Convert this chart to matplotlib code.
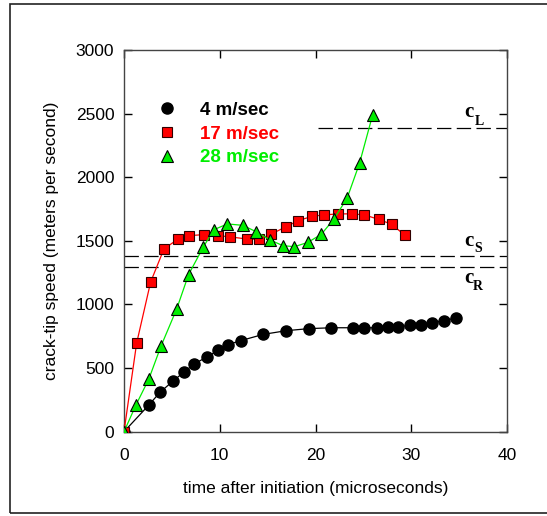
import matplotlib.pyplot as plt
from matplotlib.patches import Rectangle
from matplotlib.lines import Line2D

# crack-tip speed vs time, three impact speeds
t_4 = [0, 2.6, 3.75, 5.07, 6.22, 7.36, 8.65, 9.82, 10.9, 12.2, 14.55, 16.95, 19.3,
       21.67, 23.96, 25.1, 26.4, 27.6, 28.65, 29.9, 31.0, 32.2, 33.4, 34.7]
v_4 = [0, 210, 309, 395, 466, 534, 587, 640, 685, 716, 765, 794, 810,
       817, 817, 817, 817, 822, 825, 836, 841, 857, 872, 895]

t_17 = [0, 1.32, 2.78, 4.17, 5.6, 6.8, 8.36, 9.82, 11.1, 12.8, 14.1, 15.4, 16.95,
        18.2, 19.65, 20.9, 22.4, 23.85, 25.1, 26.6, 27.95, 29.3]
v_17 = [0, 696, 1176, 1436, 1512, 1541, 1549, 1541, 1531, 1515, 1512, 1554, 1612,
        1659, 1693, 1704, 1712, 1712, 1704, 1669, 1630, 1546]

t_28 = [0, 1.25, 2.6, 3.85, 5.5, 6.74, 8.3, 9.4, 10.8, 12.4, 13.8, 15.2, 16.6,
        17.8, 19.2, 20.6, 21.9, 23.3, 24.6, 25.97]
v_28 = [0, 210, 415, 670, 964, 1234, 1454, 1588, 1633, 1622, 1572, 1509, 1462,
        1454, 1488, 1551, 1669, 1835, 2110, 2491]

labels = ['4 m/sec', '17 m/sec', '28 m/sec']

# wave speeds
c_L = 2385
c_S = 1382
c_R = 1298

GREEN = '#00ee00'
RED = '#ff0000'

plt.rcParams['font.family'] = ['Liberation Sans', 'DejaVu Sans']

fig = plt.figure(figsize=(5.47, 5.16), dpi=100)
fig.patches.append(Rectangle((10 / 547, 3 / 516), 1.0, 509 / 516, transform=fig.transFigure,
                             fill=False, edgecolor='#222222', lw=1.2))
ax = fig.add_axes([124 / 547, 84.3 / 516, 383 / 547, 381.7 / 516])

dash = (0, (11.5, 4.3))
ax.plot([20.3, 40], [c_L, c_L], color='black', lw=0.9, linestyle=dash)
ax.plot([0, 40], [c_S, c_S], color='black', lw=0.9, linestyle=dash)
ax.plot([0, 40], [c_R, c_R], color='black', lw=0.9, linestyle=dash)

ax.plot(t_4, v_4, '-', color='black', lw=0.9, marker='o', ms=8,
        mfc='black', mec='black', zorder=3)
ax.plot(t_17, v_17, '-', color=RED, lw=0.9, marker='s', ms=7.5,
        mfc=RED, mec='#300000', mew=0.8, zorder=4)
ax.plot(t_28, v_28, '-', color=GREEN, lw=0.9, marker='^', ms=9,
        mfc=GREEN, mec='black', mew=0.8, zorder=5)

ax.set_xlim(0, 40)
ax.set_ylim(0, 3000)
ax.set_xticks([0, 10, 20, 30, 40])
ax.set_yticks([0, 500, 1000, 1500, 2000, 2500, 3000])
ax.tick_params(direction='in', length=6, width=1, top=True, right=True,
               labelsize=12.5, pad=7)
ax.tick_params(axis='x', pad=12)
for s in ax.spines.values():
    s.set_color('#444444')
    s.set_linewidth(1)

ax.set_xlabel('time after initiation (microseconds)', fontsize=12.5, labelpad=13)
ax.set_ylabel('crack-tip speed (meters per second)', fontsize=12.5, labelpad=12)

# wave speed labels
serif = dict(family='Liberation Serif', fontweight='bold', color='black')
ax.text(36.0, 2510, 'c', fontsize=15, ha='center', va='center', **serif)
ax.text(37.1, 2440, 'L', fontsize=10, ha='center', va='center', **serif)
ax.text(36.0, 1500, 'c', fontsize=15, ha='center', va='center', **serif)
ax.text(37.0, 1440, 'S', fontsize=10, ha='center', va='center', **serif)
ax.text(36.0, 1210, 'c', fontsize=15, ha='center', va='center', **serif)
ax.text(37.0, 1140, 'R', fontsize=10, ha='center', va='center', **serif)

handles = [
    Line2D([], [], ls='', marker='o', ms=8, mfc='black', mec='black'),
    Line2D([], [], ls='', marker='s', ms=7, mfc=RED, mec='#300000', mew=0.8),
    Line2D([], [], ls='', marker='^', ms=8, mfc=GREEN, mec='black', mew=0.8),
]
leg = ax.legend(handles, labels, loc='upper left', bbox_to_anchor=(0.044, 0.909),
                frameon=False, handlelength=1, handletextpad=1.25, labelspacing=0.36,
                prop=dict(weight='bold', size=13.5))
for txt, col in zip(leg.get_texts(), ['black', RED, GREEN]):
    txt.set_color(col)

fig.savefig('out.png', dpi=100)
